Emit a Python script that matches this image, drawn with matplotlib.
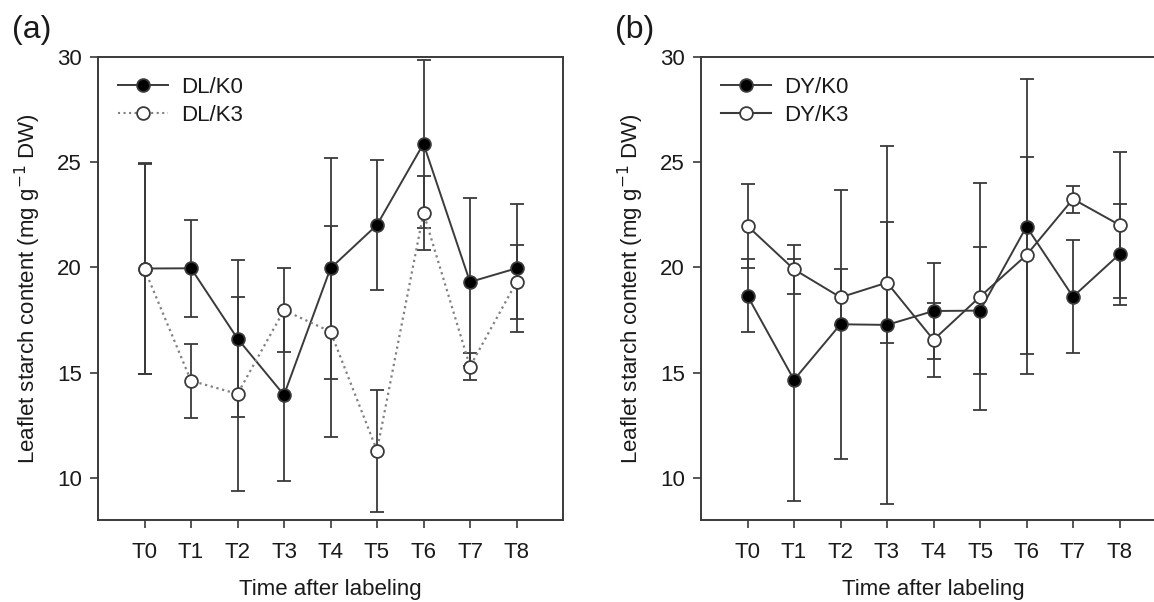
import matplotlib
matplotlib.use("Agg")
import matplotlib.pyplot as plt
from matplotlib.lines import Line2D

plt.rcParams['font.family'] = ['Liberation Sans', 'DejaVu Sans']

# Sampling times after labelling
times = ["T0", "T1", "T2", "T3", "T4", "T5", "T6", "T7", "T8"]

# Panel (a): DL plants, starch content (mg g-1 DW) and error
dl_k0 = [19.95, 19.96, 16.62, 13.94, 19.96, 22.02, 25.88, 19.31, 19.96]
dl_k0_err = [5.0, 2.3, 3.72, 4.1, 5.25, 3.1, 4.0, 4.0, 3.05]
dl_k3 = [19.92, 14.62, 13.99, 17.97, 16.95, 11.30, 22.59, 15.29, 19.31]
dl_k3_err = [5.0, 1.75, 4.6, 2.0, 5.0, 2.9, 1.75, 0.63, 1.78]

# Panel (b): DY plants
dy_k0 = [18.65, 14.66, 17.30, 17.27, 17.93, 17.95, 21.94, 18.61, 20.63]
dy_k0_err = [1.73, 5.74, 6.38, 8.5, 2.3, 3.0, 7.0, 2.68, 2.4]
dy_k3 = [21.97, 19.91, 18.58, 19.28, 16.56, 18.61, 20.59, 23.25, 22.02]
dy_k3_err = [2.0, 1.16, 1.33, 2.88, 1.77, 5.4, 4.68, 0.64, 3.47]

INK = "#3a3a3a"
TEXT = "#1a1a1a"
FS = 16
MS = 9.2

fig = plt.figure(figsize=(11.54, 6.02), dpi=100)
W, H = 1154, 602
ax_a = fig.add_axes([98 / W, 82 / H, 465 / W, 463 / H])
ax_b = fig.add_axes([701 / W, 82 / H, 465 / W, 463 / H])

x = list(range(len(times)))


def series(ax, y, err, filled, ls, line_color):
    ax.errorbar(x, y, yerr=err, fmt="none", ecolor=INK, elinewidth=1.3,
                capsize=4.8, capthick=1.3, zorder=2)
    ax.plot(x, y, ls=ls, color=line_color, lw=1.4 if ls == "-" else 1.6,
            zorder=3)
    ax.plot(x, y, ls="none", marker="o", ms=MS, mew=1.3, mec=INK,
            mfc="black" if filled else "white", zorder=4)


def style(ax, label, names, line_styles, line_colors):
    ax.set_xlim(-1, 9)
    ax.set_ylim(8, 30)
    ax.set_xticks(x)
    ax.set_xticklabels(times)
    ax.set_yticks([10, 15, 20, 25, 30])
    ax.tick_params(direction="out", length=5.5, width=1.2, color=INK,
                   labelsize=FS, labelcolor=TEXT, pad=6)
    ax.tick_params(axis="x", pad=10)
    for s in ax.spines.values():
        s.set_color(INK)
        s.set_linewidth(1.4)
    ax.set_xlabel("Time after labeling", fontsize=FS, color=TEXT, labelpad=12)
    ax.set_ylabel("Leaflet starch content (mg g$^{-1}$ DW)", fontsize=FS,
                  color=TEXT, labelpad=10)
    ax.text(-0.185, 1.026, label, transform=ax.transAxes, fontsize=23,
            color=TEXT, va="bottom", ha="left")
    handles = [
        Line2D([], [], ls=line_styles[0], color=line_colors[0], lw=1.4,
               marker="o", ms=MS, mfc="black", mec=INK, mew=1.3),
        Line2D([], [], ls=line_styles[1], color=line_colors[1], lw=1.5,
               marker="o", ms=MS, mfc="white", mec=INK, mew=1.3),
    ]
    ax.legend(handles, names, loc="upper left", frameon=False, fontsize=FS,
              handlelength=2.25, handletextpad=0.58, labelspacing=0.3,
              borderaxespad=0.5, labelcolor=TEXT)


series(ax_a, dl_k0, dl_k0_err, True, "-", INK)
series(ax_a, dl_k3, dl_k3_err, False, ":", "#808080")
style(ax_a, "(a)", ["DL/K0", "DL/K3"], ["-", ":"], [INK, "#808080"])

series(ax_b, dy_k0, dy_k0_err, True, "-", INK)
series(ax_b, dy_k3, dy_k3_err, False, "-", INK)
style(ax_b, "(b)", ["DY/K0", "DY/K3"], ["-", "-"], [INK, INK])

fig.savefig("out.png", dpi=100)
